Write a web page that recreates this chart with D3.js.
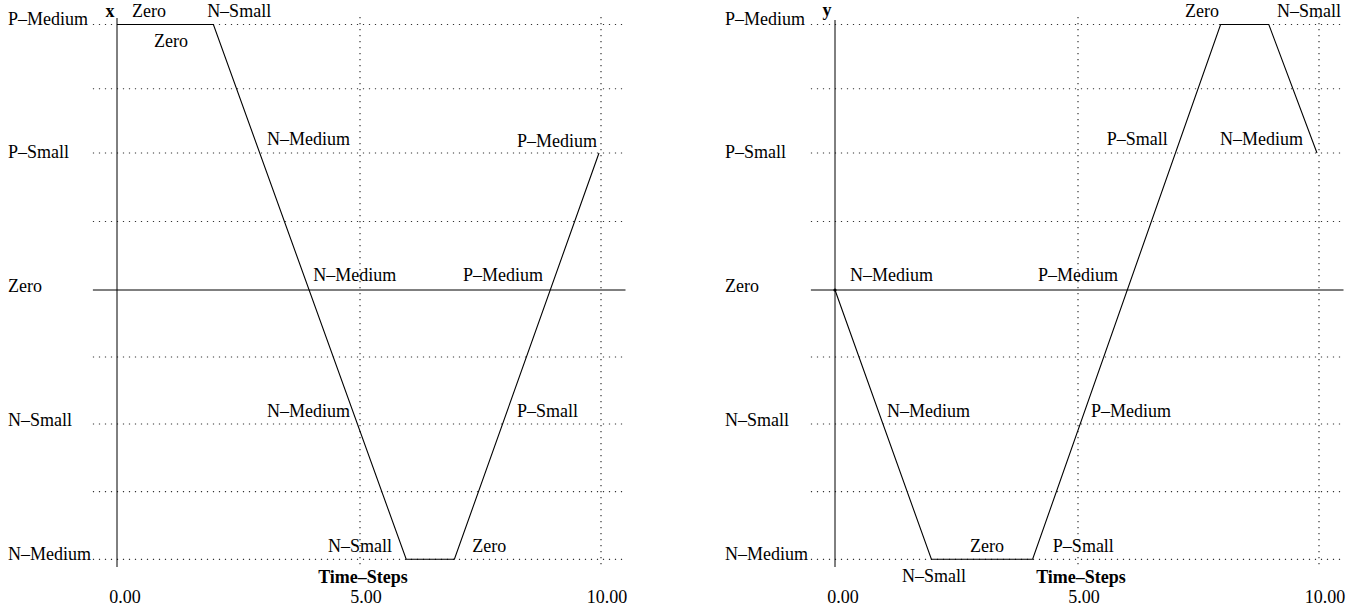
<!DOCTYPE html>
<html><head><meta charset="utf-8">
<script src="https://cdn.jsdelivr.net/npm/d3@7"></script>
<style>
body{margin:0;background:#fff}
text{font-family:"Liberation Serif","Times New Roman",serif;font-size:18px;fill:#000}
</style>
</head><body><svg id="c" width="1367" height="612"></svg>
<script>
// ---- data ----
const levelNames = ["N–Medium", "N–Small", "Zero", "P–Small", "P–Medium"];
const levelValues = [-2, -1, 0, 1, 2];
const gridLevels = [-2, -1.5, -1, -0.5, 0.5, 1, 1.5, 2];
const timeTicks = [0, 5, 10];
const timeTickLabels = ["0.00", "5.00", "10.00"];
const timeGrid = [5, 10];
const axisTitle = "Time–Steps";

const xTime = [0, 2, 6, 7, 10];
const xValues = [2, 2, -2, -2, 1];
const xNoteText = ["Zero", "N–Small", "Zero", "N–Medium", "P–Medium", "N–Medium", "P–Medium", "N–Medium", "P–Small", "N–Small", "Zero"];
const xNoteTime = [0.31, 1.87, 0.77, 3.11, 8.30, 4.07, 7.18, 3.11, 8.30, 4.38, 7.37];
const xNoteLevel = [2.06, 2.06, 1.825, 1.06, 1.05, 0.066, 0.066, -0.948, -0.948, -1.946, -1.946];

const yTime = [0, 2, 4.1, 8, 9, 10];
const yValues = [0, -2, -2, 2, 2, 1];
const yNoteText = ["Zero", "N–Small", "P–Small", "N–Medium", "N–Medium", "P–Medium", "N–Medium", "P–Medium", "Zero", "P–Small", "N–Small"];
const yNoteTime = [7.26, 9.17, 5.64, 7.99, 0.31, 4.21, 1.08, 5.31, 2.80, 4.52, 1.39];
const yNoteLevel = [2.06, 2.06, 1.06, 1.06, 0.066, 0.066, -0.948, -0.948, -1.946, -1.946, -2.165];

// ---- drawing ----
const svg = d3.select("#c");
const yScale = d3.scaleLinear().domain([-2, -1, 0, 1, 2]).range([559.3, 424, 290, 153, 24.5]);
const yLabelScale = d3.scaleLinear().domain([-2, 2]).range([559.5, 24.5]);

function panel(opts, times, vals, noteText, noteTime, noteLevel) {
  const g = svg.append("g");
  const x = d3.scaleLinear().domain([0, 10]).range(opts.range);
  const x0 = x(-0.5), x1 = x(10.55);

  // horizontal grid (dotted)
  g.selectAll("line.hg").data(gridLevels).enter().append("line")
    .attr("x1", x0).attr("x2", x1)
    .attr("y1", d => yScale(d)).attr("y2", d => yScale(d))
    .attr("stroke", "#333").attr("stroke-width", 1.2).attr("stroke-dasharray", "1.2,4.8");
  // vertical grid (dotted)
  g.selectAll("line.vg").data(timeGrid).enter().append("line")
    .attr("x1", d => x(d) + 2).attr("x2", d => x(d) + 2)
    .attr("y1", 17).attr("y2", 566)
    .attr("stroke", "#333").attr("stroke-width", 1.2).attr("stroke-dasharray", "1.2,4.8");
  // zero line
  g.append("line").attr("x1", x0).attr("x2", x1)
    .attr("y1", yScale(0)).attr("y2", yScale(0))
    .attr("stroke", "#000").attr("stroke-width", 1);
  // vertical axis
  g.append("line").attr("x1", x(0)).attr("x2", x(0))
    .attr("y1", opts.axisTop).attr("y2", 567)
    .attr("stroke", "#000").attr("stroke-width", 1);

  // level labels
  g.selectAll("text.lv").data(levelValues).enter().append("text")
    .attr("x", opts.labelX).attr("y", d => yLabelScale(d))
    .text((d, i) => levelNames[i]);

  // axis letter
  g.append("text").attr("x", x(0) + opts.letterDx).attr("y", opts.letterY)
    .attr("text-anchor", "middle").attr("font-weight", "bold").text(opts.letter);

  // time tick labels
  g.selectAll("text.tk").data(timeTicks).enter().append("text")
    .attr("x", d => x(d) + 8).attr("y", 603).attr("text-anchor", "middle")
    .text((d, i) => timeTickLabels[i]);
  g.append("text").attr("x", x(5) + 5).attr("y", 583).attr("text-anchor", "middle")
    .attr("font-weight", "bold").text(axisTitle);

  // series
  const pts = times.map((t, i) => [t, vals[i]]);
  g.append("path").datum(pts)
    .attr("d", d3.line().x(d => x(d[0])).y(d => yScale(d[1])))
    .attr("fill", "none").attr("stroke", "#000").attr("stroke-width", 1.1);
  if (opts.startDot) {
    g.append("circle").attr("cx", x(times[0])).attr("cy", yScale(vals[0])).attr("r", 1.6).attr("fill", "#000");
  }

  // annotations
  g.selectAll("text.nt").data(noteText).enter().append("text")
    .attr("x", (d, i) => x(noteTime[i])).attr("y", (d, i) => yScale(noteLevel[i]))
    .text(d => d);
}

panel({range: [117, 599], labelX: 8, axisTop: 18, letter: "x", letterDx: -7, letterY: 17, startDot: false},
  xTime, xValues, xNoteText, xNoteTime, xNoteLevel);
panel({range: [835, 1317], labelX: 725, axisTop: 20, letter: "y", letterDx: -8, letterY: 16, startDot: true},
  yTime, yValues, yNoteText, yNoteTime, yNoteLevel);
</script>
</body></html>
